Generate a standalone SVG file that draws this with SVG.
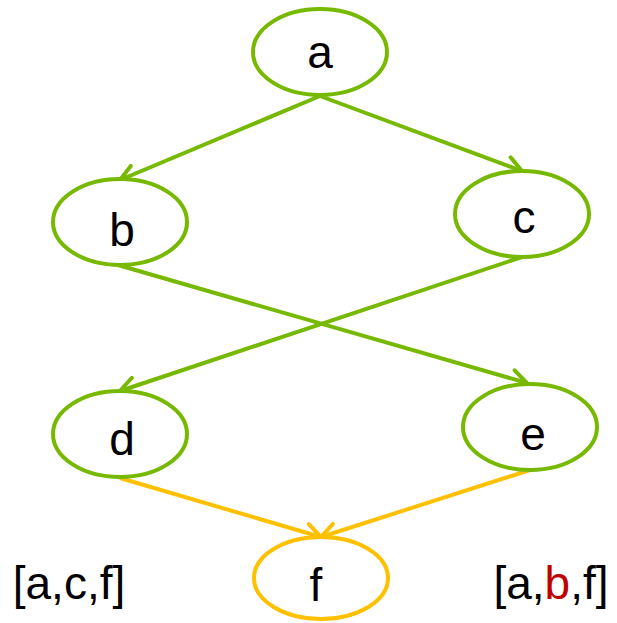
<svg xmlns="http://www.w3.org/2000/svg" width="617" height="623" viewBox="0 0 617 623">
<style>
.n{fill:#fff;stroke-width:4}
.g{stroke:#76B900}
.o{stroke:#FFC000}
.t{font-family:"Liberation Sans",Arial,sans-serif;font-size:46px;fill:#000;text-anchor:middle}
.e{fill:none;stroke-width:4}
</style>
<defs>
<marker id="ag" viewBox="0 0 20 20" refX="18" refY="10" markerWidth="22" markerHeight="22" markerUnits="userSpaceOnUse" orient="auto">
<path d="M4,2 L18,10 L4,18" fill="none" stroke="#76B900" stroke-width="3.6" stroke-linecap="round"/>
</marker>
<marker id="ao" viewBox="0 0 20 20" refX="18" refY="10" markerWidth="22" markerHeight="22" markerUnits="userSpaceOnUse" orient="auto">
<path d="M4,2 L18,10 L4,18" fill="none" stroke="#FFC000" stroke-width="3.6" stroke-linecap="round"/>
</marker>
</defs>
<g id="connectors">
<line class="e g" x1="320" y1="96" x2="120" y2="180" marker-end="url(#ag)"/>
<line class="e g" x1="320" y1="96" x2="522" y2="171" marker-end="url(#ag)"/>
<line class="e g" x1="118" y1="265" x2="527" y2="383" marker-end="url(#ag)"/>
<line class="e g" x1="522" y1="257" x2="120" y2="391" marker-end="url(#ag)"/>
<line class="e o" x1="120" y1="478" x2="321" y2="537" marker-end="url(#ao)"/>
<line class="e o" x1="530" y1="470" x2="321" y2="537" marker-end="url(#ao)"/>
</g>
<g id="node-a"><ellipse class="n g" cx="320" cy="52" rx="67" ry="43"/><text class="t" x="320" y="68">a</text></g>
<g id="node-b"><ellipse class="n g" cx="120" cy="222" rx="67" ry="43"/><text class="t" x="122" y="246">b</text></g>
<g id="node-c"><ellipse class="n g" cx="522" cy="214" rx="67" ry="43"/><text class="t" x="524" y="233">c</text></g>
<g id="node-d"><ellipse class="n g" cx="120" cy="434" rx="67" ry="43"/><text class="t" x="122" y="455">d</text></g>
<g id="node-e"><ellipse class="n g" cx="530" cy="427" rx="67" ry="43"/><text class="t" x="533" y="450">e</text></g>
<g id="node-f"><ellipse class="n o" cx="321" cy="578" rx="67" ry="41"/><text class="t" x="316" y="601">f</text></g>
<text class="t" x="69" y="599">[a,c,f]</text>
<text class="t" x="551" y="599">[a,<tspan fill="#C00000">b</tspan>,f]</text>
</svg>
